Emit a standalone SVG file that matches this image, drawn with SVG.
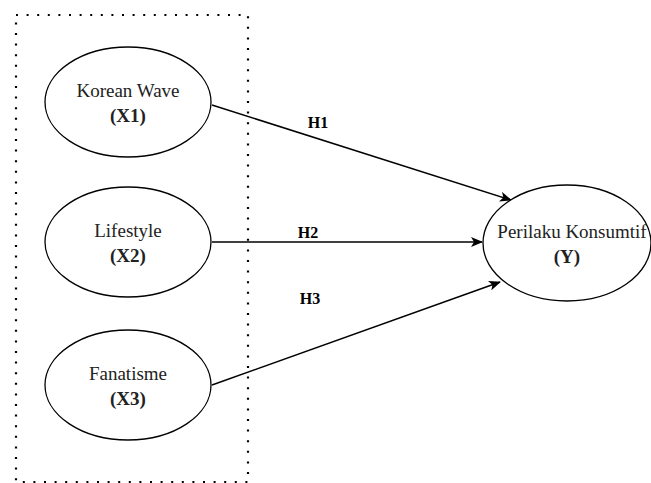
<svg xmlns="http://www.w3.org/2000/svg" width="651" height="483" viewBox="0 0 651 483">
<style>
.node ellipse{fill:#fff;stroke:#000;stroke-width:1.3}
.t{font-family:"Liberation Serif","Times New Roman",serif;font-size:19px;fill:#222;text-anchor:middle}
.b{font-weight:bold}
.lbl{font-family:"Liberation Serif","Times New Roman",serif;font-size:16px;font-weight:bold;fill:#000;text-anchor:middle}
.edge{stroke:#000;stroke-width:1.5;fill:none;marker-end:url(#ah)}
</style>
<defs>
<marker id="ah" viewBox="0 0 12 10" refX="11" refY="5" markerWidth="12" markerHeight="10" markerUnits="userSpaceOnUse" orient="auto">
<path d="M0,0 L12,5 L0,10 L3,5 Z" fill="#000"/>
</marker>
</defs>
<rect x="16" y="15" width="232" height="467" fill="none" stroke="#000" stroke-width="2.2" stroke-dasharray="2 8.6"/>
<g id="connectors">
<line class="edge" x1="212" y1="105" x2="511" y2="200"/>
<line class="edge" x1="212" y1="242" x2="482" y2="242"/>
<line class="edge" x1="212" y1="385" x2="500" y2="282"/>
<text class="lbl" x="318" y="128">H1</text>
<text class="lbl" x="308" y="238">H2</text>
<text class="lbl" x="310" y="304">H3</text>
</g>
<g id="x1" class="node">
<ellipse cx="128" cy="102" rx="83" ry="55"/>
<text class="t" x="128" y="97">Korean Wave</text>
<text class="t b" x="128" y="122">(X1)</text>
</g>
<g id="x2" class="node">
<ellipse cx="128" cy="242" rx="83" ry="55"/>
<text class="t" x="128" y="237">Lifestyle</text>
<text class="t b" x="128" y="262">(X2)</text>
</g>
<g id="x3" class="node">
<ellipse cx="128" cy="385" rx="83" ry="55"/>
<text class="t" x="128" y="380">Fanatisme</text>
<text class="t b" x="128" y="405">(X3)</text>
</g>
<g id="y" class="node">
<ellipse cx="567" cy="243" rx="84" ry="58"/>
<text class="t" x="572" y="238">Perilaku Konsumtif</text>
<text class="t b" x="567" y="263">(Y)</text>
</g>
</svg>
